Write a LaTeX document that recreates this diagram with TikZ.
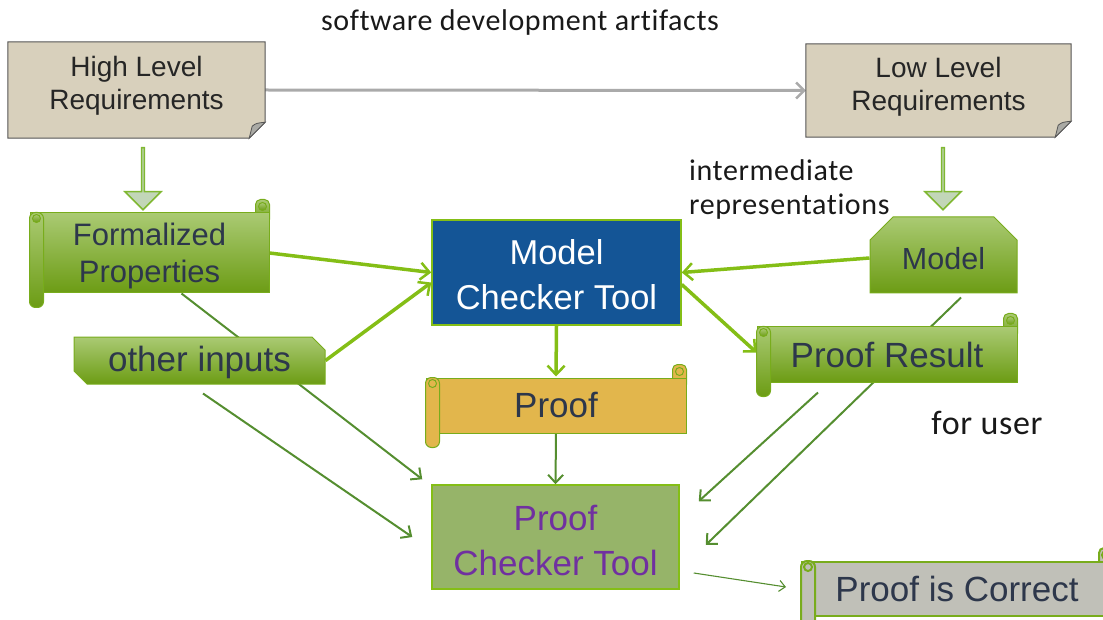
\documentclass[tikz,border=0pt]{standalone}
\usepackage{fontspec}
\setmainfont{Liberation Sans}
\newfontfamily\calib[Ligatures={NoCommon},LetterSpace=2]{Carlito}
\usetikzlibrary{arrows.meta,calc,shapes.misc,shapes.arrows}
\pgfdeclarelayer{bg}\pgfdeclarelayer{mid}\pgfdeclarelayer{fg}
\pgfsetlayers{bg,mid,main,fg}
\definecolor{slate}{RGB}{45,55,75}
\definecolor{gtop}{RGB}{170,202,115}
\definecolor{gbot}{RGB}{108,156,20}
\definecolor{gedge}{RGB}{120,172,28}
\definecolor{bright}{RGB}{132,190,22}
\definecolor{dgreen}{RGB}{85,142,48}
\definecolor{mctblue}{RGB}{20,85,150}
\definecolor{pctfill}{RGB}{150,180,105}
\definecolor{purp}{RGB}{112,48,160}
\definecolor{proofy}{RGB}{226,182,76}
\definecolor{pocgray}{RGB}{192,192,184}
\definecolor{notefill}{RGB}{216,208,188}
\definecolor{noteedge}{RGB}{85,85,85}
\definecolor{foldgray}{RGB}{170,170,165}
\definecolor{arrgray}{RGB}{170,170,170}
\definecolor{blkfill}{RGB}{194,214,184}
\definecolor{blkedge}{RGB}{128,184,50}
\newcommand\scrollextras[2]{%
  \begin{pgfonlayer}{mid}
    \path[#2,rounded corners=5pt] ($(#1.north east)+(-14,-13)$) rectangle ($(#1.north east)+(0,12)$);
  \end{pgfonlayer}
  \begin{pgfonlayer}{fg}
    \path[#2,draw=gedge] ($(#1.north east)+(-7,-6)$) circle[radius=4pt];
    \path[#2,rounded corners=6pt] (#1.north west) rectangle ($(#1.south west)+(14,14)$);
    \path[#2,draw=gedge] ($(#1.north west)+(7,6)$) circle[radius=4pt];
  \end{pgfonlayer}}
\newcommand\noteextras[1]{%
  \begin{pgfonlayer}{mid}
    \path[fill=notefill,draw=noteedge,line width=1pt] (#1.north west) -- (#1.north east) -- ($(#1.south east)+(0,-16)$) -- ($(#1.south east)+(-16,0)$) -- (#1.south west) -- cycle;
    \path[fill=foldgray,draw=noteedge,line width=0.8pt] ($(#1.south east)+(0,-16)$) .. controls ($(#1.south east)+(-9,-15)$) .. ($(#1.south east)+(-13,-12)$) -- ($(#1.south east)+(-16,0)$) -- cycle;
  \end{pgfonlayer}}
\begin{document}
\begin{tikzpicture}[x=1pt,y=-1pt,
  boxtxt/.style={font=\fontsize{35}{45}\selectfont, text=slate, align=center, inner sep=0pt},
  greenfill/.style={top color=gtop, bottom color=gbot, draw=gedge, line width=1pt},
  yellowfill/.style={fill=proofy, draw=gedge, line width=1pt},
  grayfill/.style={fill=pocgray, draw=gedge, line width=2pt},
  notebox/.style={font=\fontsize{28}{33}\selectfont, text=black!85, align=center, inner sep=0pt, text depth=14pt},
  blockarrow/.style={single arrow, shape border rotate=270, fill=blkfill, draw=blkedge, line width=1.5pt, minimum width=36pt, minimum height=62pt, single arrow head extend=8.5pt, single arrow head indent=0pt, inner sep=0pt},
  thick green/.style={draw=bright, line width=3.5pt, -{Straight Barb[length=9pt,width=17pt,line width=2.5pt]}},
  thin green/.style={draw=dgreen, line width=2pt, -{Straight Barb[length=8pt,width=15pt,line width=2pt]}},
  hair green/.style={draw=dgreen, line width=1.1pt, -{Straight Barb[length=6pt,width=11pt,line width=1.1pt]}},
  cal/.style={font=\calib\fontsize{30}{34}\selectfont, text=black!90, inner sep=0pt}]
\useasboundingbox (0,0) rectangle (1103,620);
\clip (0,0) rectangle (1103,620);

% notes
\node[notebox, minimum width=257pt, minimum height=96pt] (hlr) at (136.5,90) {High Level\\Requirements};
\noteextras{hlr}
\node[notebox, minimum width=265pt, minimum height=93pt] (llr) at (938.5,90.5) {Low Level\\Requirements};
\noteextras{llr}

% labels
\node[cal] (title) at (520,23) {software development artifacts};
\node[cal, align=left, anchor=west] (inter) at (689,190) {intermediate\\representations};
\node[cal, font=\calib\fontsize{34}{38}\selectfont] (foruser) at (987,423) {for user};

% block arrows
\node[blockarrow] (barL) at (143,178) {};
\node[blockarrow] (barR) at (943,178) {};

% main boxes
\node[boxtxt, greenfill, font=\fontsize{31}{37}\selectfont, minimum width=239pt, minimum height=80pt, text depth=-1.5pt] (fp) at (149.5,253) {Formalized\\Properties};
\scrollextras{fp}{greenfill}
\node[boxtxt, greenfill, chamfered rectangle, chamfered rectangle corners={north east,south west}, chamfered rectangle xsep=6pt, chamfered rectangle ysep=7pt, minimum width=251pt, minimum height=47pt, text depth=3pt] (oi) at (199.5,360.5) {other inputs};
\node[boxtxt, fill=mctblue, draw=bright, line width=1.5pt, text=white, font=\fontsize{34.5}{44}\selectfont, minimum width=249pt, minimum height=105pt, text height=73pt, text depth=0pt] (mct) at (556.5,272.5) {Model\\Checker Tool};
\node[boxtxt, greenfill, chamfered rectangle, chamfered rectangle corners={north west,north east}, chamfered rectangle xsep=11pt, chamfered rectangle ysep=12pt, font=\fontsize{30.5}{36}\selectfont, minimum width=147pt, minimum height=76pt, text height=30pt, text depth=0pt] (model) at (943.5,255) {Model};
\node[boxtxt, greenfill, minimum width=260pt, minimum height=55pt] (pr) at (887,354.5) {Proof Result};
\scrollextras{pr}{greenfill}
\node[boxtxt, yellowfill, minimum width=260pt, minimum height=55pt] (proof) at (556,405.5) {Proof};
\scrollextras{proof}{yellowfill}
\node[boxtxt, fill=pctfill, draw=bright, line width=1.5pt, text=purp, minimum width=247pt, minimum height=104pt, text height=76pt, text depth=0pt] (pct) at (555.5,537) {Proof\\Checker Tool};
\node[boxtxt, grayfill, minimum width=310pt, minimum height=54pt] (poc) at (957,589) {Proof is Correct};
\scrollextras{poc}{grayfill}

% connectors
\begin{pgfonlayer}{bg}
\draw[draw=arrgray, line width=3pt, -{Straight Barb[length=8pt,width=16pt,line width=2.5pt]}] (hlr.east) -- (llr.west);
\draw[thick green] (fp.east) -- (mct.west);
\draw[thick green] (oi.east) -- ([yshift=-10pt]mct.west);
\draw[thick green] ([yshift=-3pt]model.west) -- (mct.east);
\draw[thick green] ([yshift=-12pt]mct.east) -- ([yshift=2pt]pr.west);
\draw[thick green] (mct.south) -- ([yshift=1pt]proof.north);
\draw[thin green] (proof.south) -- (pct.north);
\draw[thin green] ([xshift=32pt]fp.south) -- ([xshift=-9pt,yshift=5pt]pct.north west);
\draw[thin green] ([xshift=3.5pt,yshift=-9pt]oi.south) -- ([xshift=-19pt]pct.west);
\draw[thin green] ([xshift=17.5pt,yshift=-4pt]model.south) -- ([xshift=26pt,yshift=-8pt]pct.east);
\draw[thin green] ([xshift=-69pt,yshift=-10pt]pr.south) -- ([xshift=19pt,yshift=-17pt]pct.north east);
\draw[hair green] ([xshift=14pt,yshift=-36pt]pct.east) -- ([xshift=-15pt,yshift=2pt]poc.west);
\end{pgfonlayer}
\end{tikzpicture}
\end{document}
